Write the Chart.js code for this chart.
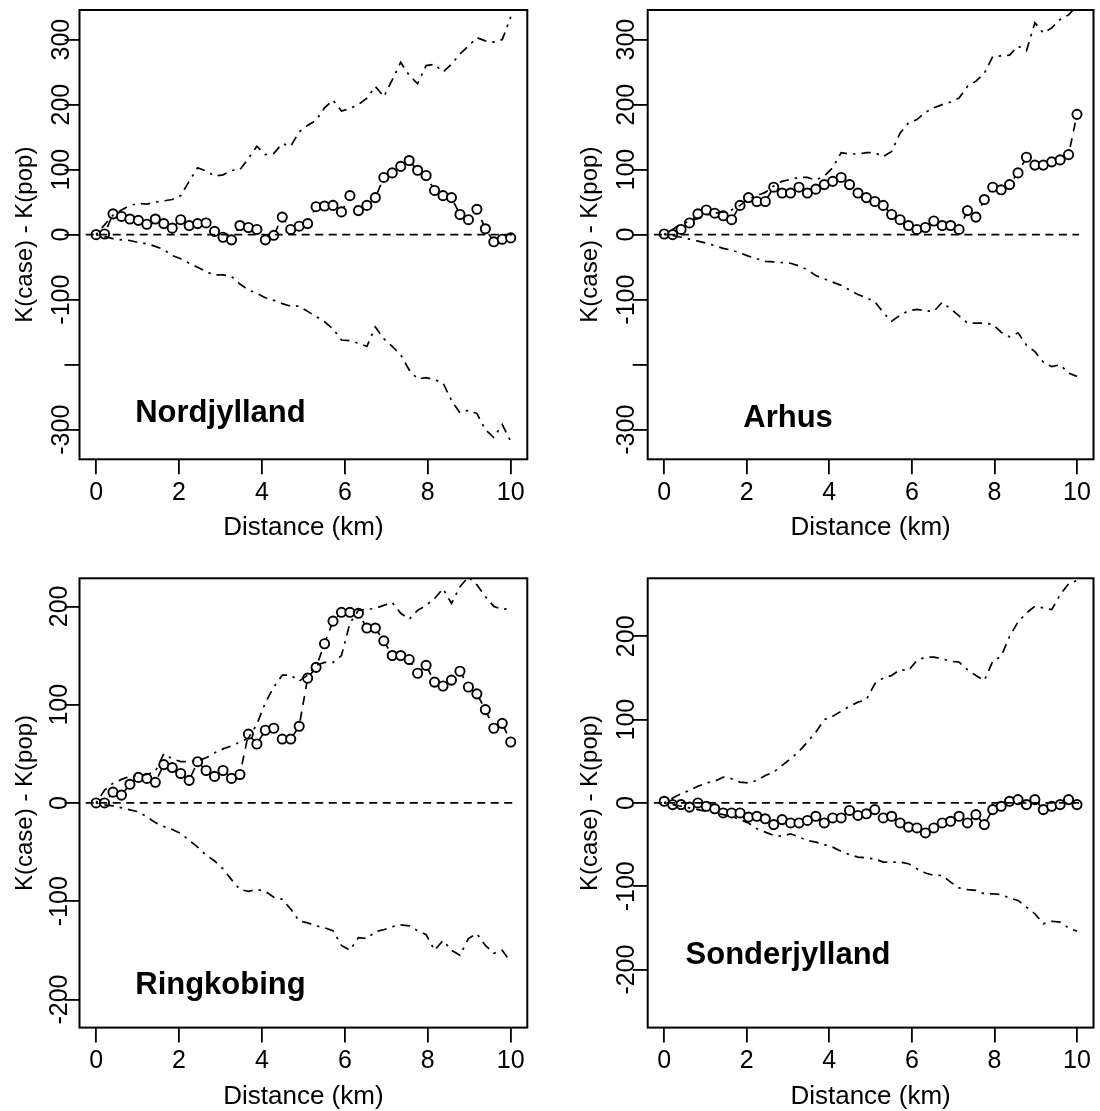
<!DOCTYPE html>
<html>
<head>
<meta charset="utf-8">
<script src="https://cdn.jsdelivr.net/npm/chart.js@4.4.1/dist/chart.umd.min.js"></script>
<style>
  html, body { margin: 0; padding: 0; background: #ffffff; }
  #wrap { position: relative; width: 1100px; height: 1111px; overflow: hidden; background: #ffffff; }
  #wrap canvas { position: absolute; }
</style>
</head>
<body>
<div id="wrap"></div>
<script>
// Distances at which K(case) - K(pop) was evaluated (50 steps over 0-10 km)
const distanceKm = [0, 0.204, 0.408, 0.612, 0.816, 1.020, 1.224, 1.429, 1.633, 1.837,
  2.041, 2.245, 2.449, 2.653, 2.857, 3.061, 3.265, 3.469, 3.673, 3.878,
  4.082, 4.286, 4.490, 4.694, 4.898, 5.102, 5.306, 5.510, 5.714, 5.918,
  6.122, 6.327, 6.531, 6.735, 6.939, 7.143, 7.347, 7.551, 7.755, 7.959,
  8.163, 8.367, 8.571, 8.776, 8.980, 9.184, 9.388, 9.592, 9.796, 10];

const xTicks = [0, 2, 4, 6, 8, 10];
const zeroSpan = [-0.25, 10.05];

// Nordjylland
const nordObserved = [0, 1, 32, 28, 24, 22, 16, 24, 17, 10,
  23, 14, 17, 18, 5, -4, -8, 14, 11, 8,
  -8, -1, 27, 8, 13, 17, 43, 44, 45, 35,
  60, 37, 45, 57, 88, 95, 105, 114, 99, 91,
  68, 60, 57, 31, 23, 39, 9, -11, -7, -5];
const nordUpper = [0, 15, 30, 38, 45, 48, 47, 50, 52, 54,
  60, 82, 103, 98, 90, 92, 99, 100, 117, 136,
  123, 125, 140, 136, 158, 168, 176, 195, 207, 190,
  194, 200, 210, 228, 212, 238, 265, 245, 232, 260,
  262, 250, 262, 278, 290, 303, 298, 296, 300, 335];
const nordLower = [0, -3, -6, -8, -9, -12, -14, -18, -23, -32,
  -37, -44, -50, -57, -62, -62, -64, -76, -85, -90,
  -97, -101, -106, -110, -110, -118, -126, -134, -145, -162,
  -163, -167, -172, -142, -160, -172, -185, -208, -222, -220,
  -223, -228, -255, -274, -270, -275, -300, -312, -292, -318];

// Arhus
const arhusObserved = [1, 0, 8, 18, 32, 38, 33, 29, 23, 45,
  57, 51, 51, 73, 64, 64, 73, 64, 70, 77,
  82, 88, 77, 64, 57, 51, 45, 31, 23, 14,
  8, 11, 21, 14, 14, 8, 37, 27, 54, 73,
  69, 77, 95, 119, 107, 107, 112, 115, 123, 185];
const arhusUpper = [0, 8, 17, 20, 25, 30, 33, 35, 38, 45,
  55, 60, 65, 75, 82, 85, 88, 88, 84, 90,
  103, 126, 124, 124, 126, 126, 120, 128, 156, 172,
  177, 188, 195, 200, 204, 210, 228, 236, 248, 274,
  275, 276, 290, 283, 326, 310, 318, 331, 338, 352];
const arhusLower = [0, -1, -4, -7, -10, -13, -17, -21, -24, -28,
  -33, -37, -41, -42, -43, -44, -48, -54, -63, -68,
  -73, -78, -85, -92, -97, -103, -120, -133, -124, -117,
  -115, -117, -118, -104, -114, -125, -136, -136, -136, -138,
  -150, -157, -151, -170, -180, -196, -203, -200, -213, -218];

// Ringkobing
const ringObserved = [0, 0, 11, 8, 19, 26, 25, 21, 39, 36,
  30, 23, 42, 33, 27, 33, 25, 29, 70, 60,
  74, 76, 65, 65, 78, 127, 138, 162, 185, 194,
  194, 193, 178, 178, 165, 150, 150, 146, 132, 140,
  123, 119, 125, 134, 118, 111, 95, 76, 81, 62];
const ringUpper = [0, 13, 20, 24, 27, 28, 29, 32, 50, 45,
  42, 42, 43, 46, 51, 55, 58, 62, 66, 80,
  102, 118, 130, 130, 124, 130, 140, 143, 143, 150,
  183, 196, 197, 198, 201, 204, 193, 187, 196, 201,
  208, 218, 203, 220, 230, 222, 210, 200, 197, 198];
const ringLower = [0, -2, -3, -5, -7, -9, -14, -20, -24, -27,
  -31, -38, -45, -53, -59, -67, -78, -88, -90, -88,
  -90, -96, -98, -108, -120, -122, -125, -127, -130, -145,
  -150, -137, -138, -131, -129, -126, -124, -125, -130, -134,
  -150, -140, -150, -155, -138, -133, -145, -153, -150, -162];

// Sonderjylland
const sondObserved = [2, -2, -2, -5, 0, -4, -7, -12, -12, -12,
  -17, -16, -19, -26, -20, -24, -24, -21, -16, -24,
  -18, -18, -9, -15, -13, -8, -18, -16, -24, -29,
  -30, -36, -30, -24, -22, -16, -24, -14, -26, -8,
  -4, 2, 4, -2, 4, -8, -4, -2, 4, -2];
const sondUpper = [0, 6, 11, 15, 20, 24, 26, 31, 29, 25,
  24, 27, 33, 37, 45, 53, 62, 73, 85, 100,
  104, 110, 116, 121, 124, 143, 150, 153, 160, 159,
  171, 175, 175, 173, 170, 169, 160, 153, 147, 170,
  176, 200, 217, 228, 236, 234, 232, 250, 263, 267];
const sondLower = [0, -2, -4, -6, -8, -10, -12, -14, -16, -20,
  -24, -31, -35, -39, -40, -37, -41, -45, -47, -50,
  -53, -58, -62, -65, -66, -67, -71, -71, -71, -73,
  -79, -84, -87, -87, -95, -102, -104, -105, -109, -109,
  -110, -114, -117, -125, -133, -145, -142, -143, -150, -154];

const wideYTicks = [-300, -200, -100, 0, 100, 200, 300];
const wideYUnlabelled = [-200];
const narrowYTicks = [-200, -100, 0, 100, 200];

const regionNames = ['Nordjylland', 'Arhus', 'Ringkobing', 'Sonderjylland'];
const regionLabelX = [3, 3, 3, 3];
const regionLabelY = [-271, -278, -183, -180];

// Page layout of the four panels (pixels)
const FONT = '"Liberation Sans", Arial, Helvetica, sans-serif';
const CANVAS_W = 550, CANVAS_H = 556;
const layouts = [
  { frame: [0, 0],     area: { left: 79.5,  top: 10,    right: 527.3, bottom: 459.3 },  yRange: [-345.5, 345.5], labelGap: 19, titleGap: 54 },
  { frame: [550, 0],   area: { left: 647.7, top: 10,    right: 1096,  bottom: 459.3 },  yRange: [-345.5, 345.5], labelGap: 23, titleGap: 57.7 },
  { frame: [0, 555],   area: { left: 79.5,  top: 578.3, right: 527.3, bottom: 1027.6 }, yRange: [-228.6, 228.6], labelGap: 21, titleGap: 54 },
  { frame: [550, 555], area: { left: 647.7, top: 578.3, right: 1096,  bottom: 1027.6 }, yRange: [-269.6, 269.6], labelGap: 23, titleGap: 57.7 }
];

const panelSeries = [
  { observed: nordObserved, upper: nordUpper, lower: nordLower, yTicks: wideYTicks, skip: wideYUnlabelled },
  { observed: arhusObserved, upper: arhusUpper, lower: arhusLower, yTicks: wideYTicks, skip: wideYUnlabelled },
  { observed: ringObserved, upper: ringUpper, lower: ringLower, yTicks: narrowYTicks, skip: [] },
  { observed: sondObserved, upper: sondUpper, lower: sondLower, yTicks: narrowYTicks, skip: [] }
];

const toPoints = (ys) => distanceKm.map((x, i) => ({ x: x, y: ys[i] }));

// Frame box, rotated y tick labels and the region name
const panelDecor = {
  id: 'panelDecor',
  afterDraw(chart, args, opts) {
    const { ctx, chartArea } = chart;
    const xs = chart.scales.x, ys = chart.scales.y;
    ctx.save();
    ctx.strokeStyle = '#000';
    ctx.lineWidth = 2;
    ctx.strokeRect(chartArea.left, chartArea.top, chartArea.right - chartArea.left, chartArea.bottom - chartArea.top);

    // y tick labels, parallel to the axis
    const tickSize = 25;
    ctx.fillStyle = '#000';
    ctx.font = tickSize + 'px ' + FONT;
    ctx.textAlign = 'center';
    ctx.textBaseline = 'alphabetic';
    const capH = 0.716 * tickSize;
    ys.ticks.forEach((t) => {
      if (!t.label) return;
      const py = ys.getPixelForValue(t.value);
      ctx.save();
      ctx.translate(chartArea.left - opts.labelGap + capH / 2, py);
      ctx.rotate(-Math.PI / 2);
      ctx.fillText(t.label, 0, 0);
      ctx.restore();
    });

    // region name
    const nameSize = 31;
    ctx.font = 'bold ' + nameSize + 'px ' + FONT;
    const px = xs.getPixelForValue(opts.nameX);
    const py = ys.getPixelForValue(opts.nameY);
    ctx.fillText(opts.name, px, py + 0.716 * nameSize / 2);
    ctx.restore();
  }
};

const wrap = document.getElementById('wrap');

layouts.forEach((lay, k) => {
  const s = panelSeries[k];
  const canvas = document.createElement('canvas');
  canvas.width = CANVAS_W;
  canvas.height = CANVAS_H;
  canvas.style.left = lay.frame[0] + 'px';
  canvas.style.top = lay.frame[1] + 'px';
  canvas.style.width = CANVAS_W + 'px';
  canvas.style.height = CANVAS_H + 'px';
  wrap.appendChild(canvas);

  const areaLeft = lay.area.left - lay.frame[0];
  const areaTop = lay.area.top - lay.frame[1];
  const areaRight = lay.area.right - lay.frame[0];
  const areaBottom = lay.area.bottom - lay.frame[1];
  const xTitleCenter = areaBottom + 69;        // from canvas top
  const yTitleCenter = areaLeft - lay.titleGap; // from canvas left

  new Chart(canvas, {
    type: 'line',
    data: {
      datasets: [
        {
          label: 'zero',
          data: zeroSpan.map((x) => ({ x: x, y: 0 })),
          borderColor: '#000', borderWidth: 1.7, borderDash: [8, 5.5],
          pointRadius: 0, order: 0
        },
        {
          label: 'upper envelope',
          data: toPoints(s.upper),
          borderColor: '#000', borderWidth: 1.7, borderDash: [2.5, 6, 9.5, 6],
          pointRadius: 0, order: 1
        },
        {
          label: 'lower envelope',
          data: toPoints(s.lower),
          borderColor: '#000', borderWidth: 1.7, borderDash: [2.5, 6, 9.5, 6],
          pointRadius: 0, order: 1
        },
        {
          label: 'K(case) - K(pop)',
          data: toPoints(s.observed),
          borderColor: '#000', borderWidth: 1.7, borderDash: [9, 7],
          pointRadius: 4.6, pointBorderWidth: 1.9,
          pointBackgroundColor: '#fff', pointBorderColor: '#000',
          pointStyle: 'circle', order: 2
        }
      ]
    },
    options: {
      responsive: false,
      animation: false,
      devicePixelRatio: 1,
      events: [],
      layout: { padding: { left: 0, top: areaTop, right: CANVAS_W - areaRight, bottom: 0 } },
      elements: { line: { tension: 0, fill: false } },
      plugins: {
        legend: { display: false },
        tooltip: { enabled: false },
        panelDecor: { labelGap: lay.labelGap, name: regionNames[k], nameX: regionLabelX[k], nameY: regionLabelY[k] }
      },
      scales: {
        x: {
          type: 'linear', position: 'bottom', bounds: 'data',
          min: -0.4, max: 10.4,
          afterBuildTicks: (sc) => { sc.ticks = xTicks.map((v) => ({ value: v })); },
          afterFit: (sc) => { sc.height = CANVAS_H - areaBottom; },
          grid: { drawOnChartArea: false, drawTicks: true, tickLength: 15, color: '#000', lineWidth: 1.8 },
          border: { display: false },
          ticks: { color: '#000', font: { family: FONT, size: 25, lineHeight: 1 }, padding: 6, maxRotation: 0, autoSkip: false },
          title: {
            display: true, text: 'Distance (km)', color: '#000',
            font: { family: FONT, size: 26, lineHeight: 1 },
            padding: { top: 0, bottom: CANVAS_H - xTitleCenter - 13 }
          }
        },
        y: {
          type: 'linear', position: 'left', bounds: 'data',
          min: lay.yRange[0], max: lay.yRange[1],
          afterBuildTicks: (sc) => { sc.ticks = s.yTicks.map((v) => ({ value: v })); },
          afterFit: (sc) => { sc.width = areaLeft; },
          grid: { drawOnChartArea: false, drawTicks: true, tickLength: 15, color: '#000', lineWidth: 1.8 },
          border: { display: false },
          ticks: {
            display: false, autoSkip: false,
            callback: (v) => (s.skip.indexOf(v) >= 0 ? '' : String(v))
          },
          title: {
            display: true, text: 'K(case) - K(pop)', color: '#000',
            font: { family: FONT, size: 24, lineHeight: 1 },
            padding: { top: yTitleCenter - 12, bottom: 0 }
          }
        }
      }
    },
    plugins: [panelDecor]
  });
});
</script>
</body>
</html>
